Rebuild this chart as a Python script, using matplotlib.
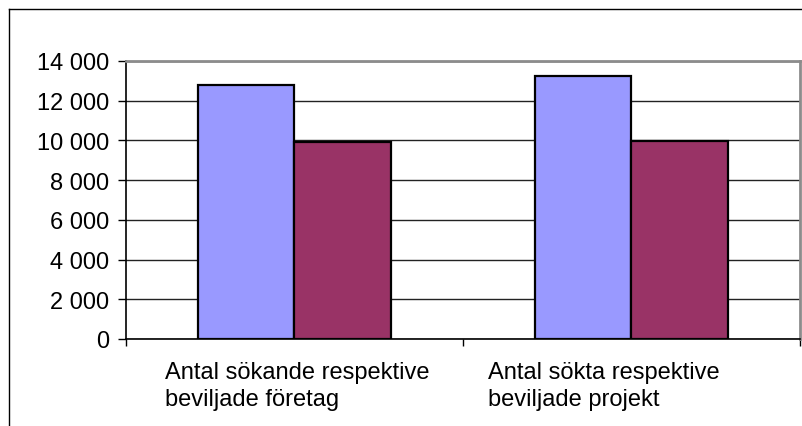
import matplotlib
matplotlib.use("Agg")
import matplotlib.pyplot as plt
import numpy as np
from matplotlib.lines import Line2D
from matplotlib.ticker import FuncFormatter, MultipleLocator

categories = ["Antal sökande respektive\nbeviljade företag",
              "Antal sökta respektive\nbeviljade projekt"]
sokta = [12800, 13250]
beviljade = [9900, 9950]
yticks = list(range(0, 14001, 2000))

plt.rcParams["font.family"] = ["Liberation Sans", "DejaVu Sans"]

fig = plt.figure(figsize=(8.03, 4.27), dpi=100)
W, H = 803, 427
ax = fig.add_axes([126 / W, 1 - 340 / H, (800 - 126) / W, (340 - 62) / H])

x = np.arange(len(categories))
bw = 1 / 3.5
ax.bar(x - bw / 2, sokta, width=bw, color="#9999FF", edgecolor="black", linewidth=1.6, zorder=3)
ax.bar(x + bw / 2, beviljade, width=bw, color="#993366", edgecolor="black", linewidth=1.6, zorder=3)

ax.set_xlim(-0.5, len(categories) - 0.5)
ax.set_ylim(0, 14000)
ax.set_yticks(yticks)
ax.yaxis.set_major_formatter(FuncFormatter(lambda v, p: f"{int(v):,}".replace(",", " ")))
ax.yaxis.grid(True, color="#222222", linewidth=1.0, zorder=0)
ax.tick_params(axis="y", direction="out", length=6, width=1, pad=6, labelsize=17, colors="black")

# category labels: wrapped, left-aligned text blocks under each group
ax.set_xticks(x)
ax.set_xticklabels([])
ax.tick_params(axis="x", which="major", length=0)
label_shift_pt = [-93, -103]
for xi, text, dx in zip(x, categories, label_shift_pt):
    ax.annotate(text, xy=(xi, 0), xycoords=("data", "axes fraction"),
                xytext=(dx, -16), textcoords="offset points",
                ha="left", va="top", fontsize=17, linespacing=1.3,
                annotation_clip=False)

ax.xaxis.set_minor_locator(MultipleLocator(1, offset=0.5))
ax.tick_params(axis="x", which="minor", direction="out", length=5, width=1)

for side in ("left", "bottom"):
    ax.spines[side].set_color("black")
    ax.spines[side].set_linewidth(1.2)
for side in ("top", "right"):
    ax.spines[side].set_color("#8c8c8c")
    ax.spines[side].set_linewidth(2.0)

# outer chart frame (left and top edges)
fig.add_artist(Line2D([8.5 / W, 8.5 / W], [0, 1 - 10 / H], transform=fig.transFigure, color="black", linewidth=1.0))
fig.add_artist(Line2D([8.5 / W, 1], [1 - 10 / H, 1 - 10 / H], transform=fig.transFigure, color="black", linewidth=1.0))

fig.savefig("out.png", dpi=100, facecolor="white")
